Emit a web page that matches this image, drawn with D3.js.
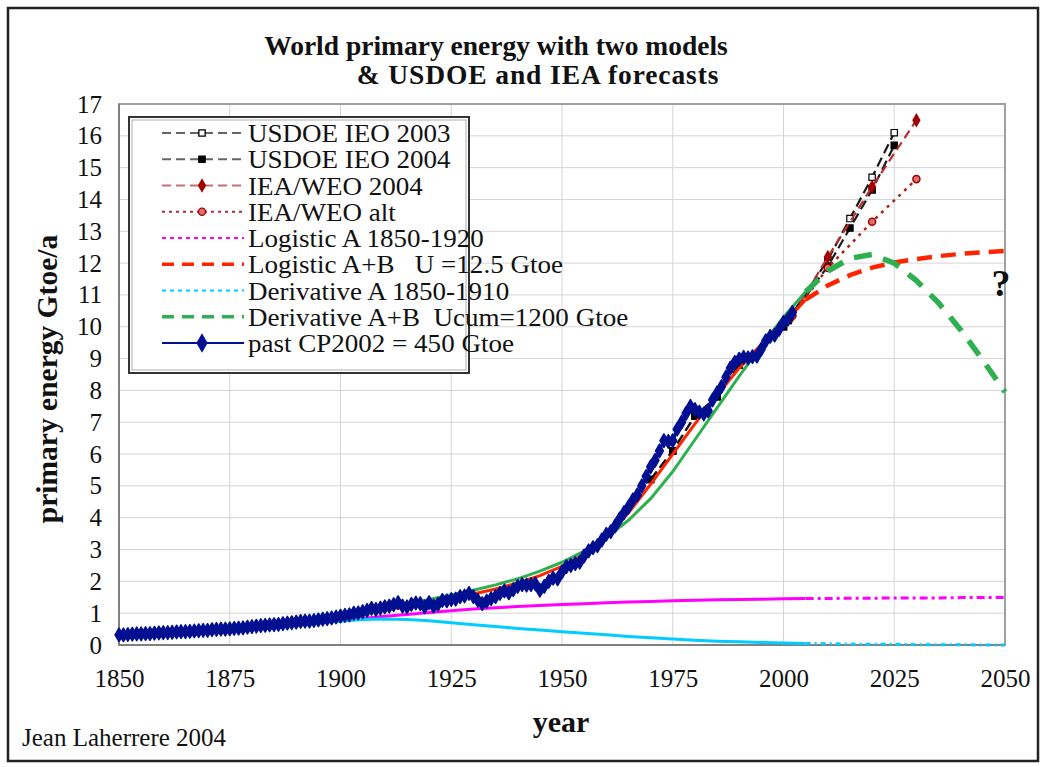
<!DOCTYPE html>
<html><head><meta charset="utf-8">
<script src="https://cdn.jsdelivr.net/npm/d3@7/dist/d3.min.js"></script>
<style>
body{margin:0;background:#fff}
text{font-family:"Liberation Serif","Times New Roman",serif;fill:#111}
</style>
</head><body>
<svg id="c" width="1045" height="767"></svg>
<script>
// ---------------- DATA ----------------
const xTicks = [1850,1875,1900,1925,1950,1975,2000,2025,2050];
const yTicks = [0,1,2,3,4,5,6,7,8,9,10,11,12,13,14,15,16,17];

const pastYears = [
 1850,1851,1852,1853,1854,1855,1856,1857,1858,1859,
 1860,1861,1862,1863,1864,1865,1866,1867,1868,1869,
 1870,1871,1872,1873,1874,1875,1876,1877,1878,1879,
 1880,1881,1882,1883,1884,1885,1886,1887,1888,1889,
 1890,1891,1892,1893,1894,1895,1896,1897,1898,1899,
 1900,1901,1902,1903,1904,1905,1906,1907,1908,1909,
 1910,1911,1912,1913,1914,1915,1916,1917,1918,1919,
 1920,1921,1922,1923,1924,1925,1926,1927,1928,1929,
 1930,1931,1932,1933,1934,1935,1936,1937,1938,1939,
 1940,1941,1942,1943,1944,1945,1946,1947,1948,1949,
 1950,1951,1952,1953,1954,1955,1956,1957,1958,1959,
 1960,1961,1962,1963,1964,1965,1966,1967,1968,1969,
 1970,1971,1972,1973,1974,1975,1976,1977,1978,1979,
 1980,1981,1982,1983,1984,1985,1986,1987,1988,1989,
 1990,1991,1992,1993,1994,1995,1996,1997,1998,1999,
 2000,2001,2002];
const pastValues = [
 0.32,0.32,0.33,0.34,0.35,0.35,0.36,0.36,0.37,0.38,
 0.39,0.39,0.40,0.41,0.42,0.42,0.43,0.44,0.45,0.46,
 0.46,0.48,0.49,0.50,0.50,0.51,0.52,0.53,0.54,0.56,
 0.58,0.59,0.61,0.62,0.63,0.64,0.65,0.67,0.69,0.70,
 0.72,0.74,0.75,0.75,0.77,0.79,0.81,0.83,0.85,0.88,
 0.91,0.93,0.95,1.00,1.01,1.05,1.09,1.15,1.12,1.16,
 1.20,1.22,1.27,1.33,1.22,1.20,1.28,1.32,1.30,1.20,
 1.33,1.22,1.28,1.40,1.39,1.43,1.44,1.52,1.54,1.62,
 1.52,1.40,1.30,1.38,1.46,1.52,1.62,1.70,1.64,1.74,
 1.84,1.90,1.88,1.90,1.92,1.72,1.84,2.00,2.10,2.08,
 2.30,2.46,2.50,2.56,2.60,2.80,2.96,3.06,3.12,3.30,
 3.48,3.56,3.74,3.96,4.16,4.34,4.56,4.72,5.00,5.30,
 5.60,5.80,6.10,6.42,6.40,6.42,6.78,7.00,7.28,7.50,
 7.40,7.32,7.26,7.36,7.70,7.92,8.12,8.42,8.70,8.88,
 8.98,9.04,9.02,9.06,9.08,9.30,9.56,9.70,9.74,9.92,
 10.14,10.24,10.45];

const modelYears = [
 1850,1855,1860,1865,1870,1875,1880,1885,1890,1895,
 1900,1905,1910,1915,1920,1925,1930,1935,1940,1945,
 1950,1955,1960,1965,1970,1975,1980,1985,1990,1995,
 2000,2005,2010,2015,2020,2025,2030,2035,2040,2045,2050];
const logisticA = [
 0.22,0.25,0.29,0.33,0.38,0.43,0.49,0.55,0.62,0.69,
 0.76,0.83,0.90,0.96,1.02,1.08,1.13,1.17,1.21,1.24,
 1.27,1.30,1.33,1.35,1.37,1.39,1.41,1.42,1.43,1.44,
 1.45,1.46,1.46,1.47,1.47,1.48,1.48,1.48,1.49,1.49,1.49];
const logisticAB = [
 0.24,0.28,0.32,0.37,0.42,0.48,0.55,0.62,0.70,0.79,
 0.89,0.99,1.10,1.21,1.33,1.46,1.60,1.76,1.95,2.18,
 2.47,2.85,3.40,4.15,5.05,6.00,6.95,7.85,8.70,9.45,
 10.10,10.85,11.30,11.62,11.86,12.02,12.13,12.22,12.29,12.34,12.38];
const derivativeA = [
 0.22,0.25,0.29,0.33,0.38,0.43,0.49,0.55,0.62,0.69,
 0.75,0.80,0.82,0.80,0.76,0.70,0.64,0.58,0.52,0.47,
 0.42,0.37,0.32,0.27,0.23,0.19,0.15,0.12,0.10,0.08,
 0.06,0.05,0.04,0.03,0.02,0.02,0.01,0.01,0.01,0.00,0.00];
const derivativeAB = [
 0.26,0.30,0.34,0.39,0.44,0.50,0.57,0.65,0.74,0.84,
 0.95,1.06,1.18,1.30,1.43,1.57,1.72,1.89,2.08,2.32,
 2.60,2.95,3.38,3.92,4.60,5.45,6.45,7.45,8.45,9.40,
 10.30,11.10,11.75,12.15,12.27,12.00,11.45,10.75,9.90,8.95,7.95];

const doeYears = [1970,1975,1980,1985,1990,2000,2001,2010,2015,2020,2025];
const ieo2003 = [5.2,6.1,7.2,7.8,8.8,10.0,10.2,12.1,13.4,14.7,16.1];
const ieo2004 = [5.2,6.1,7.2,7.8,8.8,10.0,10.2,11.9,13.1,14.3,15.7];

const weoYears = [2002,2010,2020,2030];
const weo2004 = [10.35,12.19,14.40,16.49];
const weoAlt  = [10.35,11.85,13.30,14.64];

const legendLabels = [
 "USDOE IEO 2003","USDOE IEO 2004","IEA/WEO 2004","IEA/WEO alt",
 "Logistic A 1850-1920","Logistic A+B   U =12.5 Gtoe","Derivative A 1850-1910",
 "Derivative A+B  Ucum=1200 Gtoe","past CP2002 = 450 Gtoe"];

// ---------------- CHART ----------------
const svg = d3.select('#c');
const x = d3.scaleLinear().domain([1850,2050]).range([119,1005]);
const y = d3.scaleLinear().domain([0,17]).range([645,104]);
const SERIF = '"Liberation Serif","Times New Roman",serif';

// outer frame
svg.append('rect').attr('x',8).attr('y',8).attr('width',1030).attr('height',753)
  .attr('fill','#fff').attr('stroke','#222').attr('stroke-width',2.5);

// title
svg.append('text').attr('x',496).attr('y',55).attr('text-anchor','middle')
  .attr('font-size',27.5).attr('font-weight','bold').text('World primary energy with two models');
svg.append('text').attr('x',538).attr('y',84).attr('text-anchor','middle')
  .attr('font-size',27.5).attr('font-weight','bold').attr('letter-spacing',0.9)
  .text('& USDOE and IEA forecasts');

// grid
const g = svg.append('g');
g.selectAll('line.h').data(yTicks.filter(v=>v>0)).enter().append('line')
  .attr('x1',x(1850)).attr('x2',x(2050)).attr('y1',d=>y(d)).attr('y2',d=>y(d))
  .attr('stroke','#d4d4d4').attr('stroke-width',1);
g.selectAll('line.v').data(xTicks.filter(v=>v>1850 && v<2050)).enter().append('line')
  .attr('y1',y(0)).attr('y2',y(17)).attr('x1',d=>x(d)).attr('x2',d=>x(d))
  .attr('stroke','#d4d4d4').attr('stroke-width',1);
// plot border
svg.append('rect').attr('x',x(1850)).attr('y',y(17)).attr('width',x(2050)-x(1850)).attr('height',y(0)-y(17))
  .attr('fill','none').attr('stroke','#a0a0a0').attr('stroke-width',2);
svg.append('path').attr('d',`M${x(1850)},${y(17)}V${y(0)}H${x(2050)}`)
  .attr('fill','none').attr('stroke','#808080').attr('stroke-width',2);

// axes
const ax = svg.append('g').attr('transform',`translate(0,${y(0)})`)
  .call(d3.axisBottom(x).tickValues(xTicks).tickFormat(d3.format('d')).tickSize(0).tickPadding(24));
const ay = svg.append('g').attr('transform',`translate(${x(1850)},0)`)
  .call(d3.axisLeft(y).tickValues(yTicks).tickFormat(d3.format('d')).tickSize(0).tickPadding(17));
[ax,ay].forEach(a=>{a.select('.domain').remove();
  a.selectAll('text').attr('font-size',25).attr('font-family',SERIF).attr('fill','#111');});

// axis titles
svg.append('text').attr('x',561).attr('y',732).attr('text-anchor','middle')
  .attr('font-size',30).attr('font-weight','bold').text('year');
svg.append('text').attr('transform','translate(57,379) rotate(-90)').attr('text-anchor','middle')
  .attr('font-size',29.5).attr('font-weight','bold').text('primary energy Gtoe/a');
svg.append('text').attr('x',22).attr('y',746).attr('font-size',25).text('Jean Laherrere 2004');
svg.append('text').attr('x',1001).attr('y',296).attr('text-anchor','middle')
  .attr('font-size',38).attr('font-weight','bold').text('?');

const line = d3.line().x(d=>x(d[0])).y(d=>y(d[1]));
const zip = (ys,vs)=>ys.map((yr,i)=>[yr,vs[i]]);

function model(vals, color, wHist, wFut, dash){
  const pts = zip(modelYears, vals);
  svg.append('path').attr('d',line(pts.filter(p=>p[0]<=2005))).attr('fill','none')
    .attr('stroke',color).attr('stroke-width',wHist);
  svg.append('path').attr('d',line(pts.filter(p=>p[0]>=2005))).attr('fill','none')
    .attr('stroke',color).attr('stroke-width',wFut).attr('stroke-dasharray',dash);
}

const sq = d3.symbol().type(d3.symbolSquare);
const dia = d3.symbol().type(d3.symbolDiamond);
const circ = d3.symbol().type(d3.symbolCircle);

// USDOE
[[ieo2003,'#fff'],[ieo2004,'#000']].forEach(([vals,fill])=>{
  const pts = zip(doeYears, vals);
  svg.append('path').attr('d',line(pts)).attr('fill','none').attr('stroke','#1a1a1a')
    .attr('stroke-width',2.2).attr('stroke-dasharray','10,5');
  svg.selectAll(null).data(pts).enter().append('path').attr('d',sq.size(40)())
    .attr('transform',d=>`translate(${x(d[0])},${y(d[1])})`)
    .attr('fill',fill).attr('stroke','#000').attr('stroke-width',1.2);
});
// IEA
{
  const pts = zip(weoYears, weo2004);
  svg.append('path').attr('d',line(pts)).attr('fill','none').attr('stroke','#b83030')
    .attr('stroke-width',2.2).attr('stroke-dasharray','9,5');
  svg.selectAll(null).data(pts).enter().append('path').attr('d',dia.size(60)())
    .attr('transform',d=>`translate(${x(d[0])},${y(d[1])})`).attr('fill','#a00000');
  const p2 = zip(weoYears, weoAlt);
  svg.append('path').attr('d',line(p2)).attr('fill','none').attr('stroke','#a82020')
    .attr('stroke-width',2.5).attr('stroke-dasharray','3,5');
  svg.selectAll(null).data(p2).enter().append('path').attr('d',circ.size(40)())
    .attr('transform',d=>`translate(${x(d[0])},${y(d[1])})`).attr('fill','#e07070')
    .attr('stroke','#a00000').attr('stroke-width',1.5);
}
// models
model(logisticA,   '#ff00ff', 3, 3, '8,4,3,4');
model(logisticAB,  '#ff2400', 3, 4.5, '15,9');
model(derivativeA, '#00ccff', 3, 3, '5,4,2,4');
model(derivativeAB,'#2fb050', 3, 5.5, '18,12');

// past
{
  const pts = zip(pastYears, pastValues);
  svg.append('path').attr('d',line(pts)).attr('fill','none').attr('stroke','#001090').attr('stroke-width',3);
  svg.selectAll(null).data(pts).enter().append('path').attr('d',dia.size(52)())
    .attr('transform',d=>`translate(${x(d[0])},${y(d[1])})`).attr('fill','#001090')
    .attr('stroke','#001090').attr('stroke-width',1.6).attr('stroke-linejoin','round');
}

// legend
const L = svg.append('g');
L.append('rect').attr('x',129).attr('y',117).attr('width',340).attr('height',256)
  .attr('fill','#fff').attr('stroke','#333').attr('stroke-width',2);
L.append('rect').attr('x',132).attr('y',120).attr('width',334).attr('height',250)
  .attr('fill','none').attr('stroke','#999').attr('stroke-width',0.8);
const legStyles = [
 {c:'#666',w:2,d:'9,5',m:'sq',f:'#fff'},
 {c:'#666',w:2,d:'9,5',m:'sq',f:'#000'},
 {c:'#c87070',w:2.2,d:'9,5',m:'dia',f:'#a00000'},
 {c:'#a83030',w:2,d:'3,4',m:'circ',f:'#e07070'},
 {c:'#ff00ff',w:2,d:'4,4'},
 {c:'#ff2400',w:3.5,d:'12,8'},
 {c:'#00ccff',w:2,d:'4,4'},
 {c:'#2fb050',w:3.5,d:'12,8'},
 {c:'#001090',w:2,d:null,m:'dia',f:'#001090'}];
legendLabels.forEach((lab,i)=>{
  const by = 142 + i*26.25, ly = by - 9;
  const s = legStyles[i];
  const ln = L.append('line').attr('x1',162).attr('x2',244).attr('y1',ly).attr('y2',ly)
    .attr('stroke',s.c).attr('stroke-width',s.w);
  if (s.d) ln.attr('stroke-dasharray',s.d);
  if (s.m){
    const sym = s.m==='sq'?sq.size(40)():s.m==='dia'?dia.size(i===8?110:60)():circ.size(40)();
    L.append('path').attr('d',sym).attr('transform',`translate(202,${ly})`).attr('fill',s.f)
      .attr('stroke',s.m==='sq'?'#000':(s.m==='circ'?'#a00000':'none')).attr('stroke-width',1.3);
  }
  L.append('text').attr('transform',`translate(248,${by}) scale(1.06,1)`)
    .attr('font-size',25.5).text(lab).style('white-space','pre');
});
</script>
</body></html>
